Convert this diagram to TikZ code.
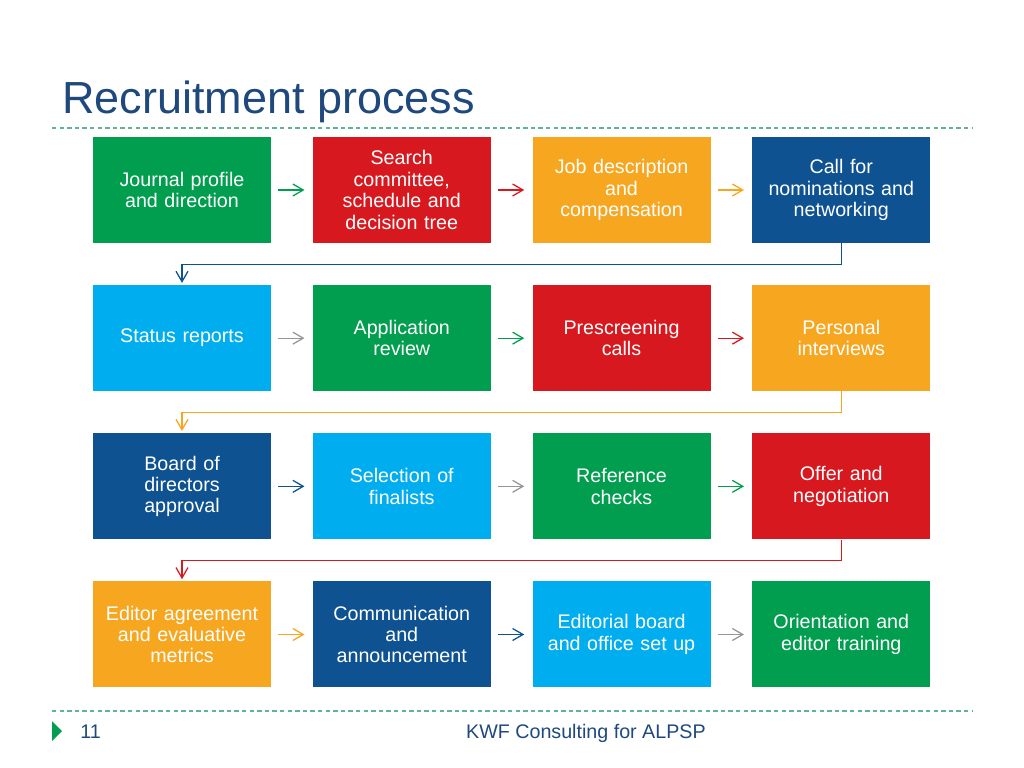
\documentclass[tikz,border=0pt]{standalone}
\usepackage{fontspec}
\setmainfont{Liberation Sans}
\usepackage{xcolor}
\usetikzlibrary{arrows.meta, positioning}

\definecolor{kgreen}{RGB}{0,158,78}
\definecolor{kred}{RGB}{215,25,31}
\definecolor{korange}{RGB}{247,166,32}
\definecolor{kdblue}{RGB}{14,82,145}
\definecolor{klblue}{RGB}{0,174,239}
\definecolor{kgray}{RGB}{150,150,150}
\definecolor{ktitle}{RGB}{31,73,125}
\definecolor{kdash}{RGB}{95,180,150}

\begin{document}
\begin{tikzpicture}[
    node distance=1.04cm and 1.03cm,
    block/.style={rectangle, fill=#1, minimum width=4.45cm, minimum height=2.65cm, text width=4.2cm, align=center, text=white, font=\fontsize{14}{15.2}\selectfont, inner sep=0pt},
    arrow/.style={-{Straight Barb[length=2.6mm, width=3mm]}, line width=0.9pt, draw=#1, shorten <=1.75mm, shorten >=2mm},
    link/.style={-{Straight Barb[length=2.6mm, width=3mm]}, line width=0.9pt, draw=#1, shorten >=0.5mm},
    rule/.style={draw=kdash, line width=1.2pt, dash pattern=on 1.1mm off 0.8mm},
]
\useasboundingbox (0,0) rectangle (25.6,-19.2);

% title and rules
\node[anchor=base west, text=ktitle, font=\fontsize{32}{36}\selectfont, inner sep=0pt] (title) at (1.55,-2.85) {Recruitment process};
\draw[rule] (1.3,-3.2) coordinate (topl) -- (24.3,-3.2) coordinate (topr);
\draw[rule] (1.3,-17.78) coordinate (botl) -- (24.3,-17.78) coordinate (botr);

% row 1
\node[block=kgreen] (journal) at (4.55,-4.75) {Journal profile\\and direction};
\node[block=kred, right=of journal] (search) {Search\\committee,\\schedule and\\decision tree};
\node[block=korange, right=of search] (jobdesc) {Job description\\and\\compensation};
\node[block=kdblue, right=of jobdesc] (callnom) {Call for\\nominations and\\networking};

% row 2
\node[block=klblue, below=of journal] (status) {Status reports};
\node[block=kgreen, right=of status] (appreview) {Application\\review};
\node[block=kred, right=of appreview] (prescreen) {Prescreening\\calls};
\node[block=korange, right=of prescreen] (interviews) {Personal\\interviews};

% row 3
\node[block=kdblue, below=of status] (board) {Board of\\directors\\approval};
\node[block=klblue, right=of board] (finalists) {Selection of\\finalists};
\node[block=kgreen, right=of finalists] (refcheck) {Reference\\checks};
\node[block=kred, right=of refcheck] (offer) {Offer and\\negotiation};

% row 4
\node[block=korange, below=of board] (agreement) {Editor agreement\\and evaluative\\metrics};
\node[block=kdblue, right=of agreement] (announce) {Communication\\and\\announcement};
\node[block=klblue, right=of announce] (officesetup) {Editorial board\\and office set up};
\node[block=kgreen, right=of officesetup] (orientation) {Orientation and\\editor training};

% arrows
\draw[arrow=kgreen]  (journal) -- (search);
\draw[arrow=kred]    (search) -- (jobdesc);
\draw[arrow=korange] (jobdesc) -- (callnom);
\draw[link=kdblue]   (callnom.south) -- ++(0,-0.53) -| (status.north);

\draw[arrow=kgray]   (status) -- (appreview);
\draw[arrow=kgreen]  (appreview) -- (prescreen);
\draw[arrow=kred]    (prescreen) -- (interviews);
\draw[link=korange]  (interviews.south) -- ++(0,-0.53) -| (board.north);

\draw[arrow=kdblue]  (board) -- (finalists);
\draw[arrow=kgray]   (finalists) -- (refcheck);
\draw[arrow=kgreen]  (refcheck) -- (offer);
\draw[link=kred]     (offer.south) -- ++(0,-0.53) -| (agreement.north);

\draw[arrow=korange] (agreement) -- (announce);
\draw[arrow=kdblue]  (announce) -- (officesetup);
\draw[arrow=kgray]   (officesetup) -- (orientation);

% footer
\fill[kgreen] (1.3,-18.03) -- (1.55,-18.28) -- (1.3,-18.53) -- cycle;
\node[anchor=base west, text=ktitle, font=\fontsize{14}{16}\selectfont, inner sep=0pt] (pagenum) at (2.0,-18.45) {11};
\node[anchor=base east, text=ktitle, font=\fontsize{14}{16}\selectfont, inner sep=0pt] (footer) at (17.65,-18.45) {KWF Consulting for ALPSP};
\end{tikzpicture}
\end{document}
